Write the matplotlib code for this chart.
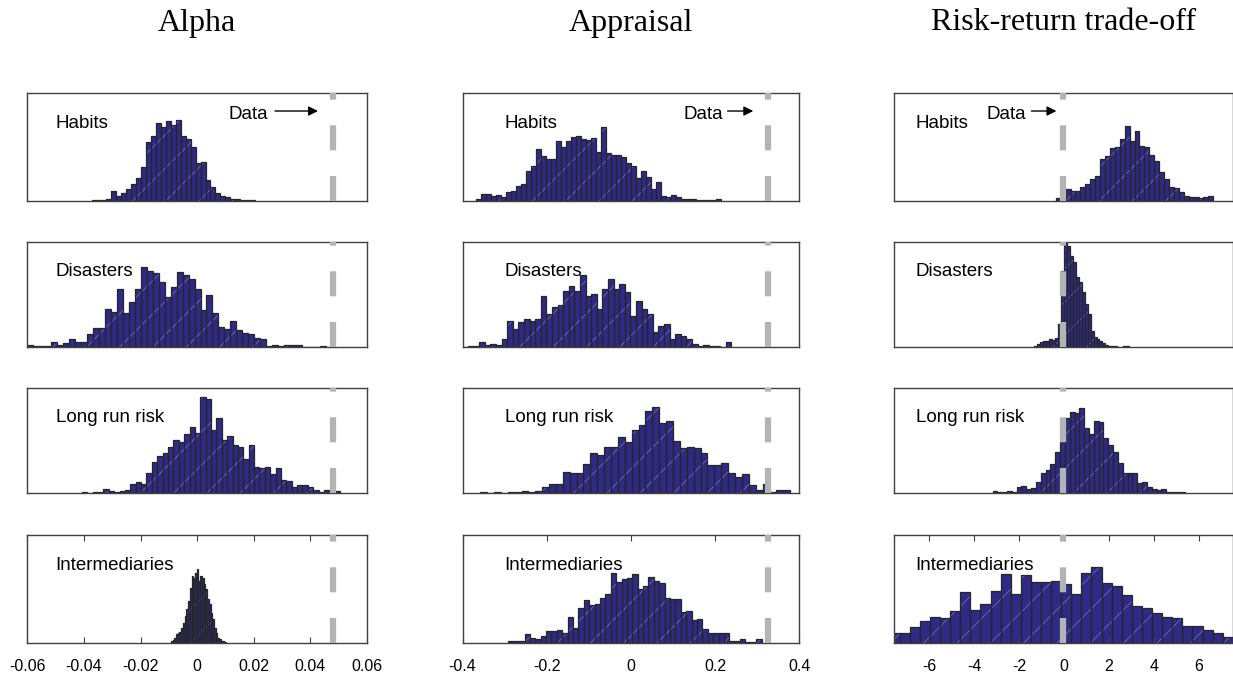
import matplotlib
matplotlib.use('Agg')
import matplotlib.pyplot as plt
import numpy as np

plt.rcParams.update({
    'font.family': 'Liberation Sans',
    'axes.unicode_minus': False,
    'hatch.linewidth': 0.6,
    'lines.scale_dashes': False,
})

titles = ['Alpha', 'Appraisal', 'Risk-return trade-off']
models = ['Habits', 'Disasters', 'Long run risk', 'Intermediaries']

# histogram counts, one list per model (rows)
alpha_counts = [
    [3, 3, 2, 6, 28, 13, 22, 35, 50, 68, 102, 175, 193, 232, 222, 240, 228, 243, 195, 185,
     162, 112, 115, 62, 42, 22, 15, 10, 6, 5, 3, 3, 3],
    [8, 3, 5, 3, 15, 8, 12, 25, 15, 15, 40, 58, 58, 115, 105, 175, 103, 135, 175, 240,
     230, 222, 195, 150, 182, 225, 218, 205, 175, 112, 158, 102, 60, 55, 80, 52, 42, 40, 28, 25,
     5, 8, 5, 8, 8, 8, 2, 2, 2, 5],
    [5, 2, 3, 5, 12, 8, 5, 8, 10, 28, 35, 28, 62, 95, 112, 120, 140, 160, 155, 178,
     198, 180, 288, 283, 190, 225, 160, 173, 145, 138, 102, 145, 78, 75, 80, 58, 75, 40, 38, 18,
     25, 25, 18, 10, 5, 10, 10, 8],
    [5, 8, 15, 25, 30, 33, 45, 60, 80, 100, 125, 165, 200, 195, 210, 222, 185, 200, 195, 175,
     160, 130, 115, 90, 70, 45, 30, 15, 10, 5, 4, 2],
]
alpha_bin_start = [-0.0373, -0.060, -0.0407, -0.0093]
alpha_bin_width = [0.00175, 0.00211, 0.0019, 0.00061]

appraisal_counts = [
    [5, 20, 20, 15, 18, 10, 25, 30, 45, 50, 90, 105, 155, 135, 125, 125, 180, 162, 178, 192,
     195, 185, 182, 188, 145, 220, 142, 137, 138, 130, 112, 105, 68, 88, 72, 35, 55, 15, 10, 18,
     10, 5, 4, 5, 3, 3, 3, 3, 5],
    [2, 3, 3, 15, 8, 10, 8, 25, 80, 55, 75, 85, 80, 85, 155, 100, 122, 127, 170, 185,
     168, 218, 155, 160, 115, 175, 205, 175, 190, 165, 95, 140, 115, 100, 47, 65, 70, 25, 40, 35,
     25, 10, 5, 8, 5, 3, 0, 16],
    [3, 2, 3, 2, 5, 4, 8, 4, 8, 18, 28, 28, 65, 62, 62, 87, 122, 115, 140, 138,
     170, 155, 190, 205, 248, 258, 210, 218, 158, 137, 140, 137, 120, 85, 85, 92, 60, 50, 58, 25,
     10, 28, 5, 10, 10],
    [5, 5, 5, 25, 15, 10, 20, 35, 35, 38, 30, 78, 45, 105, 128, 113, 115, 135, 145, 208,
     183, 190, 195, 205, 160, 170, 196, 185, 180, 135, 132, 130, 92, 95, 68, 72, 40, 30, 30, 28,
     28, 5, 5, 10, 3, 3, 12],
]
appraisal_bin_start = [-0.369, -0.400, -0.358, -0.291]
appraisal_bin_width = [0.0119, 0.0133, 0.01636, 0.0128]

riskret_counts = [
    [8, 3, 35, 28, 30, 40, 50, 65, 75, 125, 135, 158, 160, 185, 225, 178, 208, 165, 160, 138,
     120, 85, 65, 40, 38, 25, 15, 12, 12, 8, 10, 15],
    [5, 10, 15, 18, 20, 24, 22, 28, 70, 230, 317, 305, 275, 255, 212, 195, 165, 130, 100, 50,
     30, 25, 18, 12, 8, 4, 3, 3, 2, 2, 3, 3],
    [8, 5, 3, 8, 5, 18, 22, 12, 15, 35, 60, 70, 88, 125, 155, 225, 243, 240, 255, 195,
     178, 218, 215, 165, 145, 125, 90, 62, 60, 62, 30, 35, 20, 12, 10, 12, 5, 5, 3, 3],
    [30, 30, 48, 65, 78, 73, 95, 152, 98, 115, 155, 207, 147, 203, 183, 183, 186, 175, 147, 208,
     228, 180, 170, 143, 110, 105, 90, 78, 73, 50, 50, 38, 30, 17],
]
riskret_bin_start = [-0.37, -1.35, -3.18, -7.76]
riskret_bin_width = [0.219, 0.133, 0.2145, 0.449]

data_values = [0.048, 0.326, -0.06]

xlims = [(-0.06, 0.06), (-0.4, 0.4), (-7.55, 7.5)]
xticks = [[-0.06, -0.04, -0.02, 0, 0.02, 0.04, 0.06],
          [-0.4, -0.2, 0, 0.2, 0.4],
          [-6, -4, -2, 0, 2, 4, 6]]
xticklabels = [['-0.06', '-0.04', '-0.02', '0', '0.02', '0.04', '0.06'],
               ['-0.4', '-0.2', '0', '0.2', '0.4'],
               ['-6', '-4', '-2', '0', '2', '4', '6']]
label_x = [-0.05, -0.30, -6.6]
# "Data ->" annotation: text right edge, arrow start, arrow end
data_note = [(0.0252, 0.0275, 0.0427), (0.2195, 0.2299, 0.2907), (-1.67, -1.45, -0.34)]

all_counts = [alpha_counts, appraisal_counts, riskret_counts]
all_starts = [alpha_bin_start, appraisal_bin_start, riskret_bin_start]
all_widths = [alpha_bin_width, appraisal_bin_width, riskret_bin_width]

# layout in pixels
W, H = 1233, 677
col_left = [27.3, 462.5, 894.3]
col_width = [339.7, 336.8, 338.4]
row_top = [93.3, 241.7, 388.3, 535.0]
row_height = [107.4, 105.6, 105.0, 107.7]
row_ytop = [322, 317, 315, 323]

face = '#2f2a86'
hatch_col = '#6e69bd'
edge = '#262626'
spine_col = '#404040'

fig = plt.figure(figsize=(W / 100, H / 100), dpi=100)

for c in range(3):
    cx = (col_left[c] + col_width[c] / 2) / W
    fig.text(cx, 1 - 23 / H, titles[c], ha='center', va='center',
             family='Liberation Serif', fontsize=23)
    for r in range(4):
        rect = [col_left[c] / W, 1 - (row_top[r] + row_height[r]) / H,
                col_width[c] / W, row_height[r] / H]
        ax = fig.add_axes(rect)
        counts = np.array(all_counts[c][r], dtype=float)
        bw = all_widths[c][r]
        lefts = all_starts[c][r] + bw * np.arange(len(counts))
        ax.bar(lefts, counts, width=bw, align='edge', color=face,
               edgecolor=hatch_col, linewidth=0, hatch='/', zorder=1)
        ax.bar(lefts, counts, width=bw, align='edge', fill=False,
               edgecolor=edge, linewidth=0.9, zorder=2)
        ax.axvline(data_values[c], color='#b3b3b3', lw=4.5,
                   linestyle=(0, (18, 18.5)), dash_capstyle='butt', zorder=3)

        ax.set_xlim(*xlims[c])
        ax.set_ylim(0, row_ytop[r])
        ax.set_yticks([])
        for s in ax.spines.values():
            s.set_color(spine_col)
            s.set_linewidth(1.0)

        if r == 3:
            ax.set_xticks(xticks[c])
            ax.set_xticklabels(xticklabels[c])
            ax.tick_params(axis='x', direction='in', length=4, width=0.8,
                           color=spine_col, top=True, labelsize=11.5, pad=12)
        else:
            ax.set_xticks([])

        ax.text(label_x[c], 0.72, models[r], transform=ax.get_xaxis_transform(),
                ha='left', va='center', fontsize=13.5, zorder=6)

        if r == 0:
            tx, xs, xe = data_note[c]
            ax.text(tx, 0.805, 'Data', transform=ax.get_xaxis_transform(),
                    ha='right', va='center', fontsize=13.5, zorder=6)
            ax.annotate('', xy=(xe, 0.835), xycoords=('data', 'axes fraction'),
                        xytext=(xs, 0.835), textcoords=('data', 'axes fraction'),
                        arrowprops=dict(arrowstyle='-|>', color='k', lw=1.0,
                                        mutation_scale=14, shrinkA=0, shrinkB=0),
                        zorder=6)

fig.savefig('out.png', dpi=100)
